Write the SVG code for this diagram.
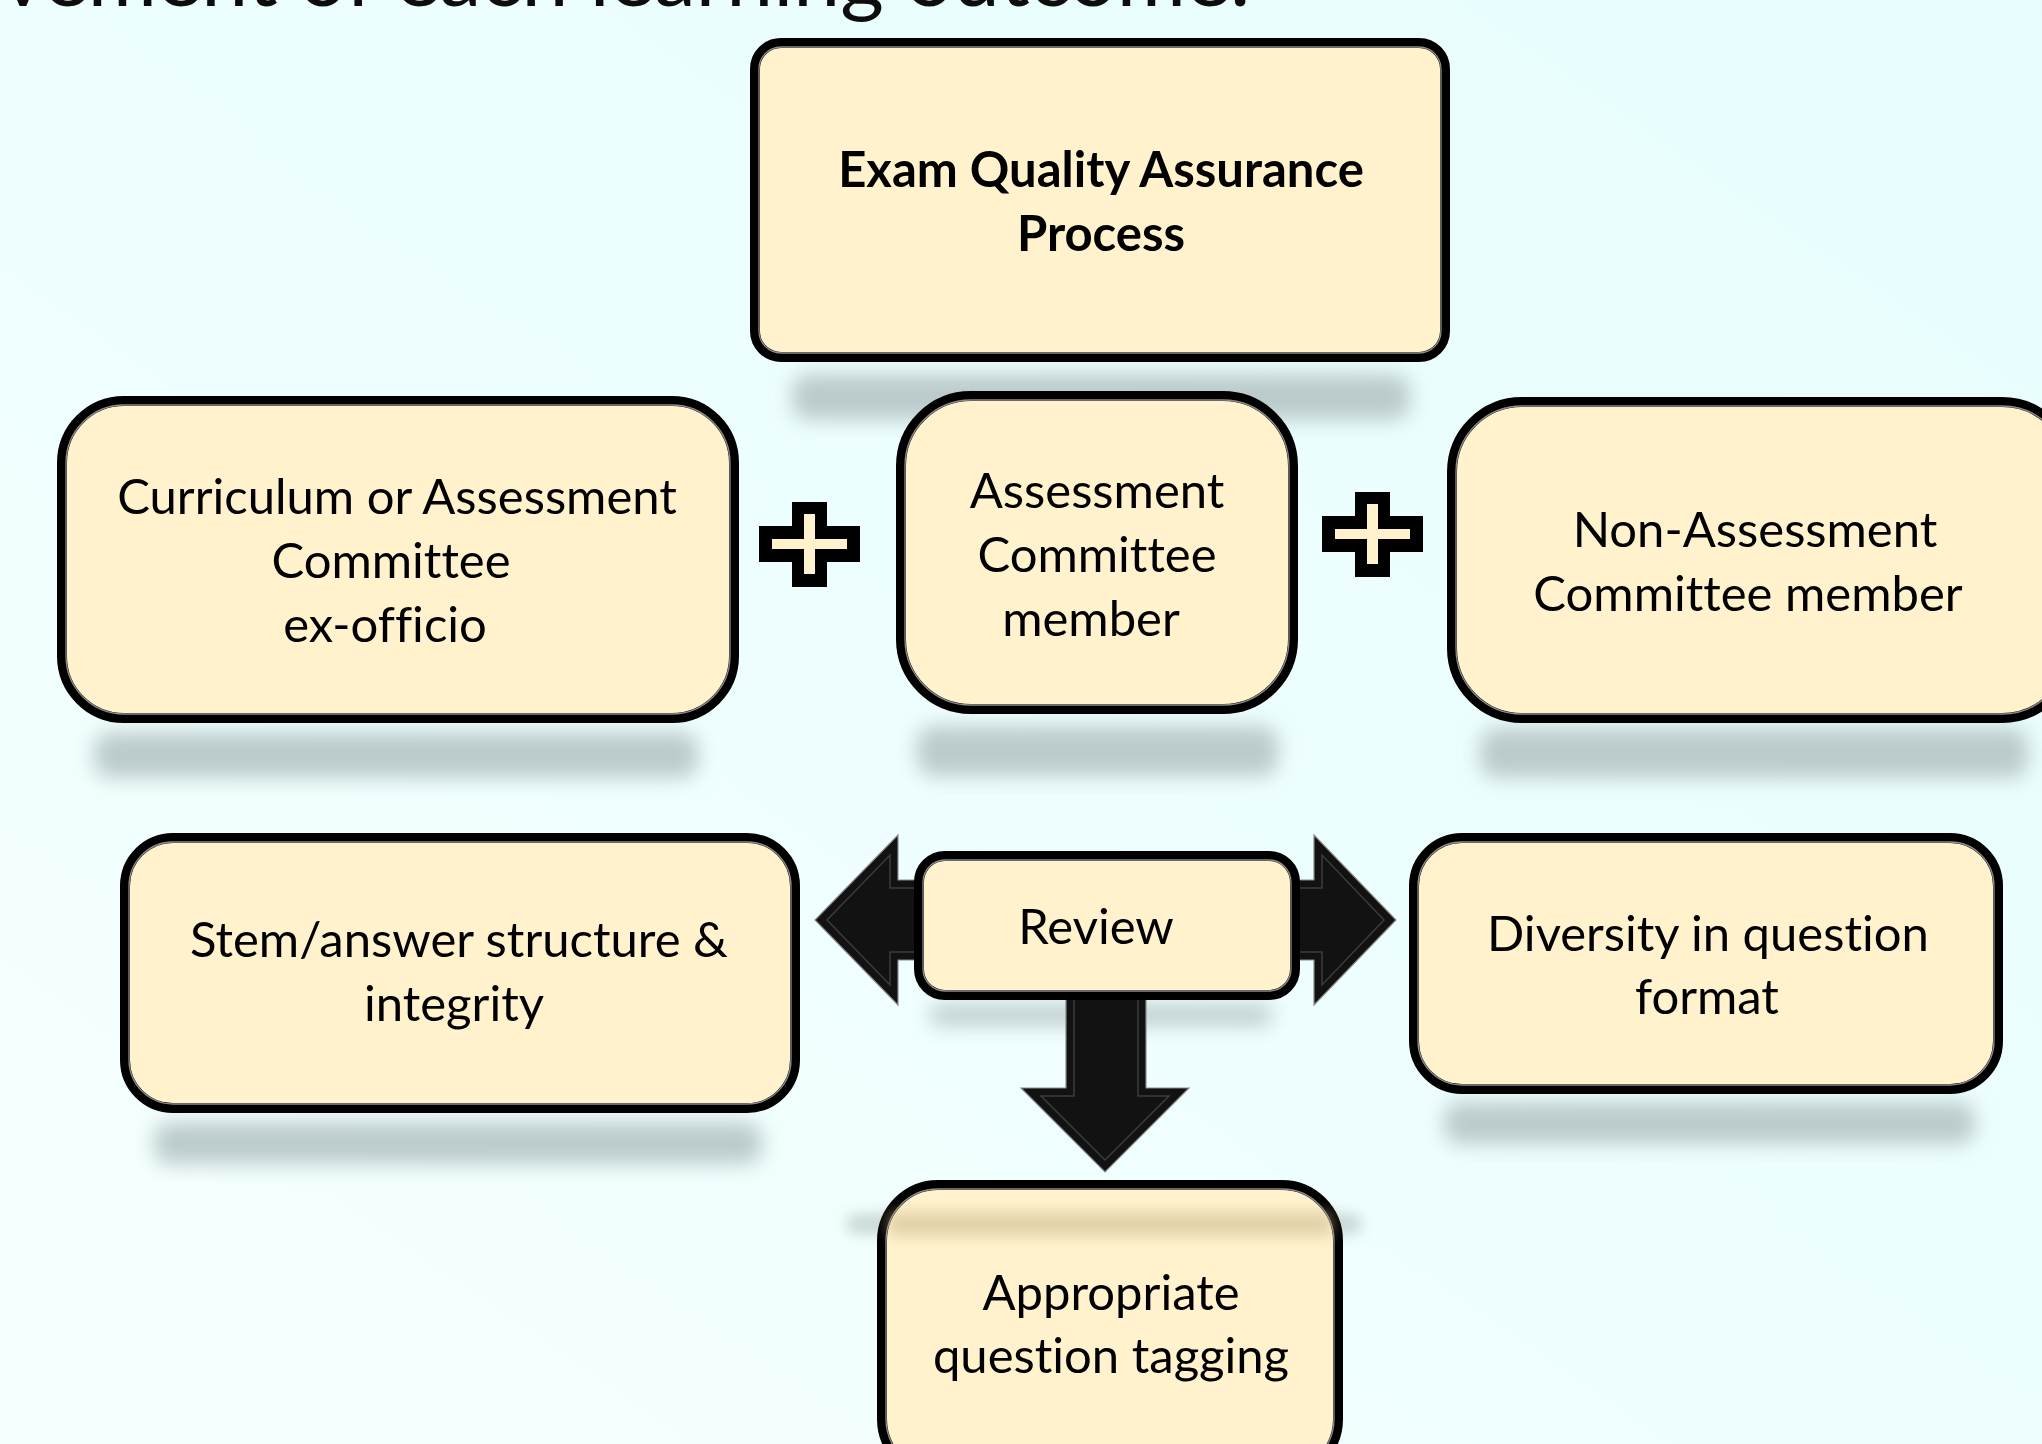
<svg xmlns="http://www.w3.org/2000/svg" width="2042" height="1444" viewBox="0 0 2042 1444">
  <defs>
    <linearGradient id="bg" x1="1" y1="0" x2="0" y2="1">
      <stop offset="0" stop-color="#E7FDFD"/>
      <stop offset="0.55" stop-color="#EEFEFE"/>
      <stop offset="1" stop-color="#F6FFFF"/>
    </linearGradient>
    <filter id="blur" x="-20%" y="-100%" width="140%" height="300%">
      <feGaussianBlur stdDeviation="10"/>
    </filter>
    <filter id="softblur" x="-20%" y="-150%" width="140%" height="400%">
      <feGaussianBlur stdDeviation="7"/>
    </filter>
    <style>
      .box { fill: #FFF2CC; stroke: #000; stroke-width: 10; }
      .rim { fill: none; stroke: #8c8c8c; stroke-width: 1.3; }
      .lbl { font-family: Lato, "Open Sans", "Liberation Sans", sans-serif; font-size: 49px; fill: #000; text-anchor: middle; font-variant-ligatures: none; font-feature-settings: "liga" 0, "clig" 0; }
      .bold { font-weight: bold; }
      .shadow { fill: #BBCBCB; filter: url(#blur); }
      .plus-out { fill: #000; }
      .plus-in { fill: #FFF2CC; }
      .arrow { fill: #121212; stroke: #8a8a8a; stroke-width: 1.2; stroke-linejoin: miter; }
      .bevel { fill: none; stroke: #3c3c3c; stroke-width: 1.5; }
    </style>
  </defs>

  <!-- backdrop -->
  <rect x="0" y="0" width="2042" height="1444" fill="url(#bg)"/>

  <!-- slide heading, cropped at the top edge -->
  <text x="1250" y="6" font-family="Lato, 'Open Sans', sans-serif" font-size="84" fill="#0d0d0d" text-anchor="end" style="font-variant-ligatures: none">vement of each learning outcome.</text>

  <!-- soft shadows under the boxes -->
  <g id="shadows">
    <rect class="shadow" x="792" y="374" width="618" height="46" rx="16"/>
    <rect class="shadow" x="94" y="732" width="604" height="46" rx="16"/>
    <rect class="shadow" x="917" y="726" width="361" height="50" rx="16"/>
    <rect class="shadow" x="1480" y="728" width="548" height="50" rx="16"/>
    <rect class="shadow" x="154" y="1122" width="608" height="42" rx="16"/>
    <rect class="shadow" x="930" y="1005" width="342" height="20" rx="8"/>
    <rect class="shadow" x="1444" y="1102" width="531" height="42" rx="16"/>
    <rect x="846" y="1214" width="516" height="20" rx="10" fill="#A9B8B6" opacity="0.55" filter="url(#softblur)"/>
  </g>

  <!-- arrows leaving the Review step -->
  <g id="connectors">
    <path class="arrow" d="M 1290 880 L 1314 880 L 1314 835 L 1396 920 L 1314 1005 L 1314 960 L 1290 960 Z"/>
    <path class="bevel" d="M 1296 888 L 1322 888 L 1322 855 L 1384 920 L 1322 985 L 1322 952 L 1296 952"/>
    <path class="arrow" d="M 924 880 L 898 880 L 898 835 L 815 920 L 898 1005 L 898 960 L 924 960 Z"/>
    <path class="bevel" d="M 918 888 L 890 888 L 890 855 L 827 920 L 890 985 L 890 952 L 918 952"/>
    <path class="arrow" d="M 1066 990 L 1066 1088 L 1021 1088 L 1105 1172 L 1189 1088 L 1146 1088 L 1146 990 Z"/>
    <path class="bevel" d="M 1074 996 L 1074 1096 L 1041 1096 L 1105 1160 L 1169 1096 L 1138 1096 L 1138 996"/>
  </g>

  <!-- top node -->
  <g id="node-process">
    <rect class="box" x="755" y="43" width="690" height="314" rx="26"/>
    <rect class="rim" x="759" y="47" width="682" height="306" rx="22"/>
    <text class="lbl bold" x="1101" y="187">Exam Quality Assurance</text>
    <text class="lbl bold" x="1101" y="251">Process</text>
  </g>

  <!-- committee members -->
  <g id="node-exofficio">
    <rect class="box" x="62" y="401" width="672" height="317" rx="62"/>
    <rect class="rim" x="66" y="405" width="664" height="309" rx="58"/>
    <text class="lbl" x="397" y="514">Curriculum or Assessment</text>
    <text class="lbl" x="391" y="578">Committee</text>
    <text class="lbl" x="385" y="642">ex-officio</text>
  </g>

  <g id="plus-1">
    <path class="plus-out" d="M 792 502 H 827 V 526 H 860 V 562 H 827 V 587 H 792 V 562 H 759 V 526 H 792 Z"/>
    <path class="plus-in" d="M 804 514 H 815 V 539 H 847 V 549 H 815 V 574 H 804 V 549 H 772 V 539 H 804 Z"/>
  </g>

  <g id="node-member">
    <rect class="box" x="901" y="396" width="392" height="313" rx="70"/>
    <rect class="rim" x="905" y="400" width="384" height="305" rx="66"/>
    <text class="lbl" x="1097" y="508">Assessment</text>
    <text class="lbl" x="1097" y="572">Committee</text>
    <text class="lbl" x="1091" y="636">member</text>
  </g>

  <g id="plus-2">
    <path class="plus-out" d="M 1355 492 H 1390 V 516 H 1423 V 552 H 1390 V 577 H 1355 V 552 H 1322 V 516 H 1355 Z"/>
    <path class="plus-in" d="M 1367 504 H 1378 V 529 H 1410 V 539 H 1378 V 564 H 1367 V 539 H 1335 V 529 H 1367 Z"/>
  </g>

  <g id="node-nonmember">
    <rect class="box" x="1452" y="402" width="620" height="316" rx="70"/>
    <rect class="rim" x="1456" y="406" width="612" height="308" rx="66"/>
    <text class="lbl" x="1755" y="547">Non-Assessment</text>
    <text class="lbl" x="1748" y="611">Committee member</text>
  </g>

  <!-- review step and its outcomes -->
  <g id="node-stem">
    <rect class="box" x="125" y="838" width="670" height="270" rx="48"/>
    <rect class="rim" x="129" y="842" width="662" height="262" rx="44"/>
    <text class="lbl" x="459" y="957">Stem/answer structure &amp;</text>
    <text class="lbl" x="454" y="1021">integrity</text>
  </g>

  <g id="node-review">
    <rect class="box" x="919" y="856" width="376" height="139" rx="26"/>
    <rect class="rim" x="923" y="860" width="368" height="131" rx="22"/>
    <text class="lbl" x="1096" y="944">Review</text>
  </g>

  <g id="node-diversity">
    <rect class="box" x="1414" y="838" width="584" height="251" rx="48"/>
    <rect class="rim" x="1418" y="842" width="576" height="243" rx="44"/>
    <text class="lbl" x="1708" y="951">Diversity in question</text>
    <text class="lbl" x="1707" y="1014">format</text>
  </g>

  <g id="node-tagging">
    <rect class="box" x="882" y="1185" width="456" height="290" rx="56"/>
    <rect class="rim" x="886" y="1189" width="448" height="282" rx="52"/>
    <rect x="888" y="1212" width="444" height="24" fill="#C9B88C" opacity="0.55" filter="url(#softblur)"/>
    <text class="lbl" x="1111" y="1310">Appropriate</text>
    <text class="lbl" x="1111" y="1373">question tagging</text>
  </g>
</svg>
